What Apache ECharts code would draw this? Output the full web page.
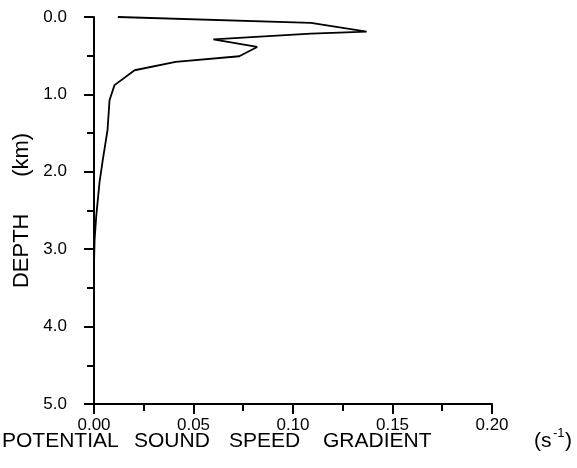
<!DOCTYPE html>
<html><head><meta charset="utf-8">
<script src="https://cdn.jsdelivr.net/npm/echarts@6.0.0/dist/echarts.min.js"></script>
<style>html,body{margin:0;padding:0;background:#fff}#c{width:577px;height:468px}</style>
</head><body><div id="c"></div>
<script>
// Potential sound speed gradient (s^-1) versus depth (km)
const depthKm  = [0.00, 0.077, 0.19, 0.214, 0.29, 0.387, 0.507, 0.58, 0.688, 0.88, 1.075, 1.46, 1.85, 2.13, 2.58, 2.88, 3.2, 5.0];
const gradient = [0.012, 0.109, 0.137, 0.109, 0.060, 0.082, 0.073, 0.041, 0.0204, 0.0103, 0.0078, 0.0068, 0.0044, 0.0028, 0.0011, 0.0003, 0.0, 0.0];
const xTickLabels = ['0.00', '0.05', '0.10', '0.15', '0.20'];
const yTickLabels = ['0.0', '1.0', '2.0', '3.0', '4.0', '5.0'];
const xTitleWords = ['POTENTIAL', 'SOUND', 'SPEED', 'GRADIENT'];
const xUnit = ['(s', '-1', ')'];
const yTitle = 'DEPTH      (km)';

const FONT = 'Liberation Sans, Arial, sans-serif';
const chart = echarts.init(document.getElementById('c'), null, {renderer: 'canvas'});
const axisCommon = {
  axisLine: {show: true, onZero: false, lineStyle: {color: '#000', width: 2}},
  axisTick: {show: true, inside: false, length: 10, lineStyle: {color: '#000', width: 2}},
  minorTick: {show: true, splitNumber: 2, length: 7, lineStyle: {color: '#000', width: 2}},
  splitLine: {show: false},
  minorSplitLine: {show: false}
};
const wordLefts = [2, 134, 229, 323];
const titleGraphics = xTitleWords.map((w, i) => ({
  type: 'text', x: wordLefts[i], y: 441,
  style: {text: w, font: '21px ' + FONT, fill: '#000', align: 'left', verticalAlign: 'middle'}
}));
titleGraphics.push(
  {type: 'text', x: 534, y: 441, style: {text: xUnit[0], font: '21px ' + FONT, fill: '#000', align: 'left', verticalAlign: 'middle'}},
  {type: 'text', x: 553, y: 433, style: {text: xUnit[1], font: '13px ' + FONT, fill: '#000', align: 'left', verticalAlign: 'middle'}},
  {type: 'text', x: 565, y: 441, style: {text: xUnit[2], font: '21px ' + FONT, fill: '#000', align: 'left', verticalAlign: 'middle'}}
);
chart.setOption({
  animation: false,
  backgroundColor: '#fff',
  grid: {left: 94, right: 85, top: 17, bottom: 64, containLabel: false},
  xAxis: Object.assign({
    type: 'value', min: 0, max: 0.2, interval: 0.05, position: 'bottom',
    axisLabel: {color: '#000', fontSize: 17, fontFamily: FONT, margin: 13,
      formatter: (v) => xTickLabels[Math.round(v / 0.05)]}
  }, axisCommon),
  yAxis: Object.assign({
    type: 'value', min: 0, max: 5, interval: 1, inverse: true, position: 'left',
    name: yTitle, nameLocation: 'middle', nameGap: 54, nameRotate: 90,
    nameTextStyle: {color: '#000', fontSize: 22, fontFamily: FONT},
    axisLabel: {color: '#000', fontSize: 17, fontFamily: FONT, margin: 27,
      formatter: (v) => yTickLabels[Math.round(v)]}
  }, axisCommon),
  graphic: titleGraphics,
  series: [{
    type: 'line',
    data: gradient.map((g, i) => [g, depthKm[i]]),
    showSymbol: false,
    symbol: 'none',
    lineStyle: {color: '#000', width: 1.8},
    silent: true
  }]
});
</script></body></html>
